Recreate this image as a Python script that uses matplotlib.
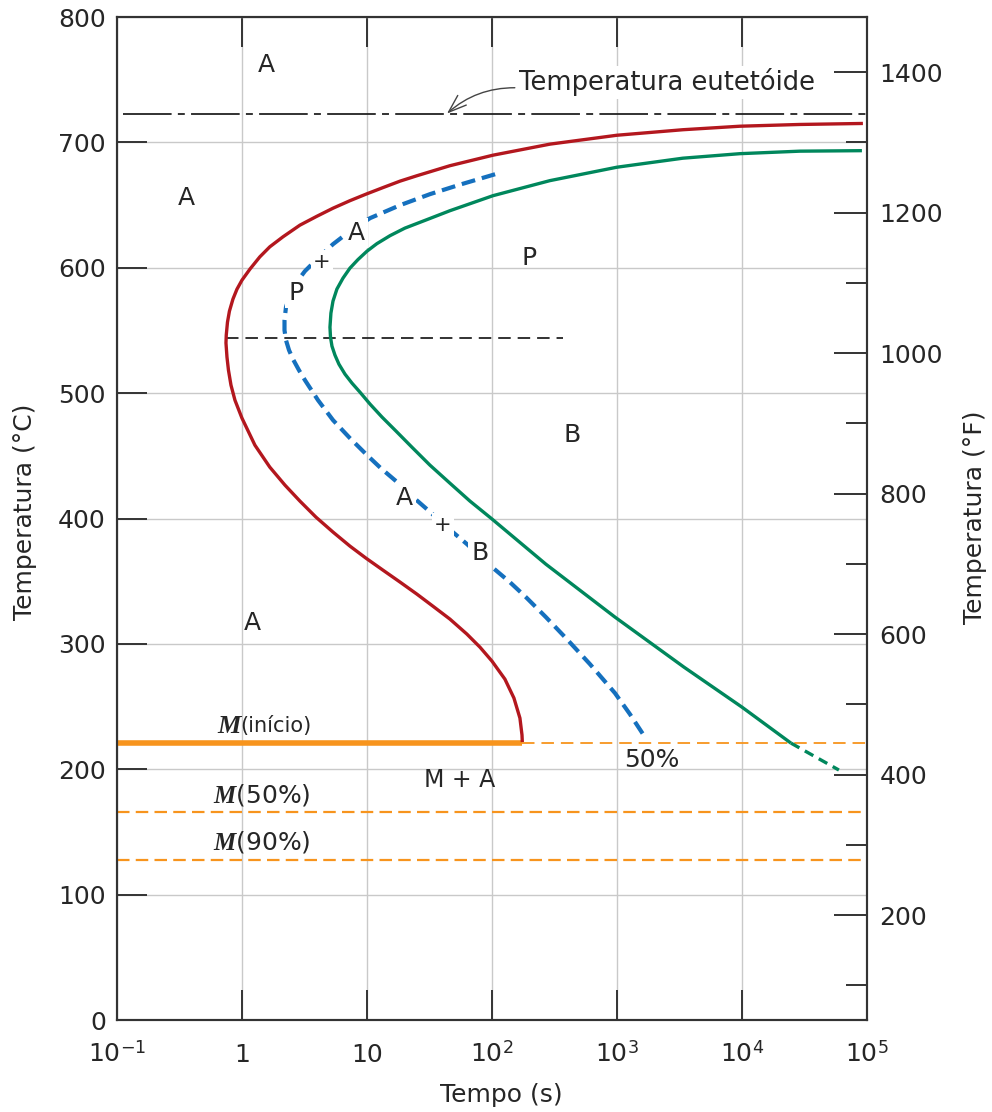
import matplotlib.pyplot as plt
import numpy as np
from matplotlib.ticker import FixedLocator, NullLocator, NullFormatter

plt.rcParams['lines.scale_dashes'] = False
plt.rcParams['mathtext.fontset'] = 'custom'
plt.rcParams['mathtext.rm'] = 'DejaVu Sans'
plt.rcParams['mathtext.it'] = 'Liberation Serif:italic:bold'
plt.rcParams['font.family'] = 'DejaVu Sans'

# --- dados (tempo em s, temperatura em C) ---
# curva de inicio da transformacao
t_inicio = [92900, 29100, 9640, 3370, 1000, 291, 102, 46.1, 25.1, 18.4, 13.4, 9.82,
            7.31, 5.35, 3.98, 2.91, 2.13, 1.67, 1.39, 1.16, 1.0, 0.912, 0.847,
            0.794, 0.766, 0.749, 0.745, 0.759, 0.780, 0.817, 0.879, 1.0, 1.27, 1.67,
            2.21, 2.91, 3.91, 5.35, 7.31, 9.82, 13.4, 18.4, 25.1, 33.7, 46.1, 63.1,
            80.2, 100, 127, 150, 167.5, 174, 175]
T_inicio = [715.1, 714.3, 712.9, 710.1, 705.7, 698.6, 689.8, 681.4, 673.4, 669.1, 663.9, 658.7,
            653.5, 647.5, 641.1, 634.0, 624.7, 616.7, 608.7, 599.0, 590.1, 582.9, 575.0,
            565.4, 556.6, 546.3, 540, 528.7, 518.3, 506.4, 494.4, 480.1, 458.5, 441.0,
            426.6, 413.9, 401.1, 389.2, 378.0, 368.4, 358.9, 349.3, 339.7, 330.1, 319.8, 307.8,
            297.4, 286.3, 271.9, 256.8, 240.8, 227.3, 221.7]

# curva de fim da transformacao
t_fim = [91200, 29100, 9640, 3370, 1000, 291, 102, 46.1, 30.2, 20.1, 15.3, 12.0,
         10.0, 8.47, 7.31, 6.43, 5.75, 5.35, 5.15, 5.06, 5.11, 5.25, 5.55, 5.97,
         6.67, 7.59, 8.79, 10.6, 13.2, 17.1, 22.9, 31.9, 46.1, 66.7, 98.2, 270,
         964, 3436, 10000, 24660]
T_fim = [693.4, 693.0, 691.0, 687.4, 680.2, 669.5, 657.5, 645.5, 638.4, 631.6, 625.6, 619.2,
         613.2, 606.5, 599.7, 591.7, 583.0, 573.4, 563.8, 552.6, 544.7, 537.5, 530.3, 523.1,
         515.2, 508.0, 500.8, 491.2, 480.9, 469.7, 456.9, 442.6, 428.2, 413.9, 400.3, 363.6,
         321.4, 281.5, 249.6, 220.9]
t_fim_tracejado = [24660, 59700]
T_fim_tracejado = [220.9, 199.4]

# curva de 50%
t_50 = [106, 55.5, 31.9, 18.4, 10.6, 7.31, 5.35, 4.06, 3.19, 2.70, 2.42, 2.25, 2.19,
        2.19, 2.25, 2.38, 2.56, 2.86, 3.19, 4.06, 5.35, 7.31, 9.82, 12.9, 17.1, 22.9,
        30.8, 43.7, 63.1, 98.2, 139, 187, 270, 391, 608, 964, 1270, 1675]
T_50 = [674.6, 666.3, 658.7, 649.9, 639.6, 629.2, 618.8, 607.7, 597.3, 587.7, 578.1, 568.6, 558.2,
        550.2, 542.3, 534.3, 527.1, 518.3, 510.4, 494.4, 478.5, 464.1, 451.4, 440.2, 429.8, 417.9,
        406.7, 393.1, 379.6, 362.0, 349.3, 337.3, 321.4, 304.6, 283.9, 260.8, 244.0, 225.7]

T_eutetoide = 723
T_nariz = 544
t_nariz = [0.745, 370]
T_Ms = 221
T_M50 = 166
T_M90 = 128

x_ticks = [0.1, 1, 10, 100, 1e3, 1e4, 1e5]
x_tick_labels = ['$10^{-1}$', '1', '10', '$10^{2}$', '$10^{3}$', '$10^{4}$', '$10^{5}$']
y_ticks = [0, 100, 200, 300, 400, 500, 600, 700, 800]
F_ticks = [200, 400, 600, 800, 1000, 1200, 1400]
F_minor = [100, 300, 500, 700, 900, 1100, 1300]

vermelho = '#b3171e'
verde = '#00875c'
azul = '#1570be'
laranja = '#f7941d'
cor_texto = '#262626'
cor_eixo = '#333333'

fig = plt.figure(figsize=(9.92, 11.12), dpi=100)
ax = fig.add_axes([0.1179, 0.0827, 0.7560, 0.9020])
ax.set_xscale('log')
ax.set_xlim(0.1, 1e5)
ax.set_ylim(0, 800)
ax.set_axisbelow(True)

ax.xaxis.set_major_locator(FixedLocator(x_ticks))
ax.xaxis.set_minor_locator(NullLocator())
ax.xaxis.set_major_formatter(NullFormatter())
ax.yaxis.set_major_locator(FixedLocator(y_ticks))
ax.grid(True, color='#c9c9c9', lw=1.0)
ax.tick_params(axis='both', direction='in', length=21.6, width=1.4, color=cor_eixo,
               labelsize=18, labelcolor=cor_texto)
ax.tick_params(axis='x', top=True, labelbottom=False)
ax.tick_params(axis='y', pad=8)
for s in ax.spines.values():
    s.set_color(cor_eixo)
    s.set_linewidth(1.5)

for xv, lab in zip(x_ticks, x_tick_labels):
    ax.text(xv, -0.0416, lab, transform=ax.get_xaxis_transform(), ha='center',
            va='baseline', fontsize=18, color=cor_texto)

# eixo da direita em F
ax2 = ax.twinx()
ax2.set_ylim(50.5, 1478.3)
ax2.yaxis.set_major_locator(FixedLocator(F_ticks))
ax2.yaxis.set_minor_locator(FixedLocator(F_minor))
ax2.tick_params(axis='y', which='major', direction='in', length=23.8, width=1.4,
                color=cor_eixo, labelsize=18, labelcolor=cor_texto, pad=9)
ax2.tick_params(axis='y', which='minor', direction='in', length=15, width=1.4,
                color=cor_eixo)
for s in ax2.spines.values():
    s.set_color(cor_eixo)
    s.set_linewidth(1.5)

# linhas horizontais
ax.axhline(T_eutetoide, xmin=0.008, color='#222222', lw=1.3, dashes=(35, 4.5, 5, 4.5))
ax.hlines(T_nariz, t_nariz[0], t_nariz[1], color='#222222', lw=1.3, linestyles=(0, (9, 5)))
ax.hlines(T_Ms, ax.get_xlim()[0], t_inicio[-1], color=laranja, lw=4)
ax.hlines(T_Ms, t_inicio[-1], ax.get_xlim()[1], color=laranja, lw=1.3,
          linestyles=(0, (9, 5)))
ax.axhline(T_M50, color=laranja, lw=1.6, dashes=(9, 4.5))
ax.axhline(T_M90, color=laranja, lw=1.6, dashes=(9, 4.5))

# curvas
ax.plot(t_inicio, T_inicio, color=vermelho, lw=2.4, solid_capstyle='butt',
        solid_joinstyle='round')
ax.plot(t_fim, T_fim, color=verde, lw=2.4, solid_capstyle='butt', solid_joinstyle='round')
ax.plot(t_fim_tracejado, T_fim_tracejado, color=verde, lw=2.4, dashes=(7, 4.5))
ax.plot(t_50, T_50, color=azul, lw=3, dashes=(10, 5))

# textos
kw = dict(fontsize=18, color=cor_texto, ha='center', va='center')
caixa = dict(boxstyle='square,pad=0.12', fc='white', ec='none')
ax.text(1.58, 762, 'A', **kw)
ax.text(0.356, 655.5, 'A', **kw)
ax.text(8.3, 628, 'A', bbox=caixa, **kw)
ax.text(4.37, 604.5, '+', fontsize=15, color=cor_texto, ha='center', va='center', bbox=caixa)
ax.text(2.7, 580, 'P', bbox=caixa, **kw)
ax.text(198, 607.7, 'P', **kw)
ax.text(437, 466.5, 'B', **kw)
ax.text(19.8, 416, 'A', bbox=caixa, **kw)
ax.text(40.5, 394.7, '+', fontsize=15, color=cor_texto, ha='center', va='center', bbox=caixa)
ax.text(80, 372.4, 'B', bbox=caixa, **kw)
ax.text(1.22, 317, 'A', **kw)
ax.text(55.5, 191.4, 'M + A', fontsize=17, color=cor_texto, ha='center', va='center')
ax.text(1905, 207.3, '50%', **kw)

ax.text(0.63, 229, '$M$', fontsize=19, color=cor_texto, ha='left', va='baseline')
ax.text(0.964, 229.5, '(início)', fontsize=15, color=cor_texto, ha='left', va='baseline')
ax.text(0.586, 173.3, '$M$(50%)', fontsize=18, color=cor_texto, ha='left', va='baseline')
ax.text(0.586, 136, '$M$(90%)', fontsize=18, color=cor_texto, ha='left', va='baseline')

ax.annotate('Temperatura eutetóide', xy=(43.7, T_eutetoide), xytext=(164, 748),
            fontsize=18.5, color=cor_texto, ha='left', va='center',
            bbox=dict(boxstyle='square,pad=0.1', fc='white', ec='none'),
            arrowprops=dict(arrowstyle='->,head_length=0.7,head_width=0.25',
                            color='#444444', lw=1.0, relpos=(0, 0.3),
                            connectionstyle='arc3,rad=0.2', shrinkA=1, shrinkB=0))

fig.text(25 / 992, 1 - 512 / 1112, 'Temperatura (°C)', rotation=90, fontsize=18,
         color=cor_texto, ha='center', va='center')
fig.text(975 / 992, 1 - 517 / 1112, 'Temperatura (°F)', rotation=90, fontsize=18,
         color=cor_texto, ha='center', va='center')
fig.text(501 / 992, 1 - 1095 / 1112, 'Tempo (s)', fontsize=18, color=cor_texto,
         ha='center', va='center')

fig.savefig('out.png', dpi=100)
